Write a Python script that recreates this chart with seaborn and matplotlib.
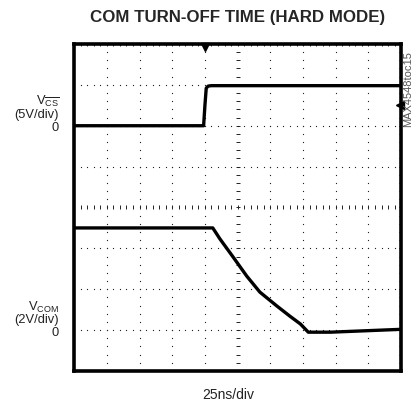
import numpy as np
import pandas as pd
import seaborn as sns
from matplotlib import pyplot as plt

# scope settings
NS_PER_DIV = 25
VCS_PER_DIV = 5
VCOM_PER_DIV = 2
VCS_ZERO_DIV = 6   # ground marker of the VCS trace, divisions from bottom
VCOM_ZERO_DIV = 1  # ground marker of the VCOM trace

# traces (ns, V)
vcs_t = [0, 99, 100, 101, 102.5, 105, 250]
vcs_v = [0.0, 0.0, 2.5, 4.6, 4.85, 4.9, 4.9]

vcom_t = [0, 106, 111.5, 121.5, 132, 142, 155, 165, 173, 179, 196, 250]
vcom_v = [5.0, 5.0, 4.46, 3.58, 2.64, 1.86, 1.18, 0.68, 0.30, -0.10, -0.10, 0.04]

title = "COM TURN-OFF TIME (HARD MODE)"
xlabel = "25ns/div"
part_id = "MAX4548toc15"


def main():
    sns.set_style("white")
    fam = ["Liberation Sans Narrow", "Liberation Sans", "DejaVu Sans"]
    plt.rcParams["font.family"] = fam
    plt.rcParams["mathtext.fontset"] = "custom"
    plt.rcParams["mathtext.rm"] = "Liberation Sans"
    plt.rcParams["mathtext.it"] = "Liberation Sans"

    fig = plt.figure(figsize=(4.14, 4.14), dpi=100)
    ax = fig.add_axes([0.179, 0.1014, 0.790, 0.790])

    vcs = pd.DataFrame({"x": np.array(vcs_t) / NS_PER_DIV,
                        "y": np.array(vcs_v) / VCS_PER_DIV + VCS_ZERO_DIV})
    vcom = pd.DataFrame({"x": np.array(vcom_t) / NS_PER_DIV,
                         "y": np.array(vcom_v) / VCOM_PER_DIV + VCOM_ZERO_DIV})

    # graticule: dotted grid lines, with ticked centre lines
    sub = np.arange(0, 10.01, 0.2)
    subv = np.arange(0, 8.01, 0.2)
    dot = dict(ls="none", marker="s", ms=0.8, mew=0, color="#222222", zorder=1)
    for gy in range(1, 8):
        if gy == 4:
            ax.plot(sub, np.full_like(sub, 4), ls="none", marker="|",
                    ms=3.5, mew=0.7, color="#222222", zorder=1)
        else:
            ax.plot(sub, np.full_like(sub, gy), **dot)
    for gx in range(1, 10):
        if gx == 5:
            ax.plot(np.full_like(subv, 5), subv, ls="none", marker="_",
                    ms=3.5, mew=0.7, color="#222222", zorder=1)
        else:
            ax.plot(np.full_like(subv, gx), subv, **dot)

    sns.lineplot(data=vcs, x="x", y="y", sort=False, color="black",
                 lw=2.4, ax=ax, zorder=3)
    sns.lineplot(data=vcom, x="x", y="y", sort=False, color="black",
                 lw=2.4, ax=ax, zorder=3)

    # trigger position and trigger level markers
    ax.plot([4], [7.93], marker="v", ms=6, color="black", clip_on=False, zorder=4)
    ax.plot([9.97], [6.5], marker="<", ms=6, color="black", clip_on=False, zorder=4)

    ax.set_xlim(0, 10)
    ax.set_ylim(0, 8)
    ax.set_xticks(np.arange(0, 10.01, 1))
    ax.set_yticks(np.arange(0, 8.01, 1))
    ax.set_xticks(sub, minor=True)
    ax.set_yticks(subv, minor=True)
    ax.tick_params(which="both", direction="in", length=1.5, width=0.7,
                   top=True, right=True, labelbottom=False, labelleft=False)
    ax.set_xlabel("")
    ax.set_ylabel("")
    for s in ax.spines.values():
        s.set_linewidth(2.6)
        s.set_color("black")

    fig.text(0.573, 0.957, title, ha="center", va="center", fontsize=12.2,
             fontweight="bold", family=fam)
    fig.text(0.552, 0.045, xlabel, ha="center", va="center", fontsize=10,
             family=fam, color="#222222")
    fig.text(0.985, 0.785, part_id, ha="center", va="center", rotation=90,
             fontsize=8, family=fam, color="#555555")

    lab = dict(ha="right", va="center", fontsize=9.3, family=fam, color="#222222")
    fig.text(0.142, 0.756, r"V$_{\overline{\mathrm{CS}}}$", **lab)
    fig.text(0.142, 0.723, "(5V/div)", **lab)
    fig.text(0.142, 0.692, "0", **lab)
    fig.text(0.142, 0.258, r"V$_{\mathrm{COM}}$", **lab)
    fig.text(0.142, 0.226, "(2V/div)", **lab)
    fig.text(0.142, 0.195, "0", **lab)

    plt.savefig("out.png", dpi=100)


if __name__ == '__main__':
    main()
